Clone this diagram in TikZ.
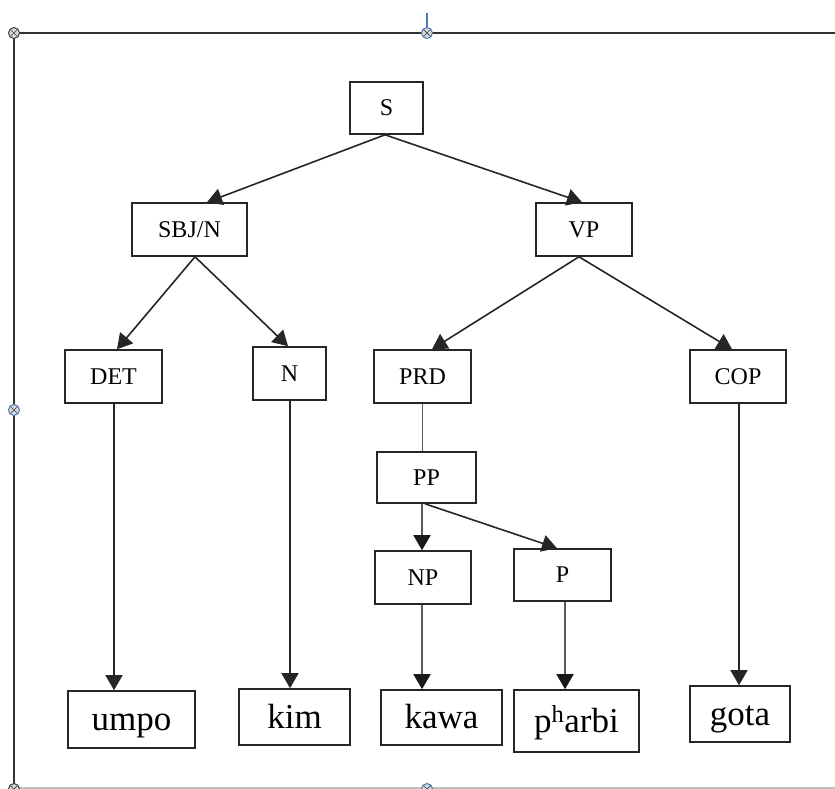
\documentclass[tikz,border=0pt]{standalone}
\usepackage{fontspec}
\setmainfont{Liberation Serif}
\usetikzlibrary{arrows.meta,calc}
\definecolor{linegray}{HTML}{5A5A5A}
\definecolor{handleblue}{HTML}{4A7AB8}
\tikzset{
  box/.style={draw=black!85, line width=1.6pt, rectangle, inner sep=0pt, font=\fontsize{24}{28}\selectfont},
  word/.style={box, font=\fontsize{35}{40}\selectfont, text height=26pt, text depth=4pt},
  arr/.style={draw=black!85, line width=1.6pt, -{Triangle[length=15pt,width=17pt]}},
  garr/.style={draw=linegray, line width=1.8pt, -{Triangle[length=15pt,width=17pt,color=black!90]}},
  gline/.style={draw=linegray, line width=1.8pt},
  handle/.style={circle, draw=black!75, fill=black!15, line width=1pt, minimum size=11pt, inner sep=0pt, path picture={
      \draw[black!75, line width=0.7pt] (path picture bounding box.north west) -- (path picture bounding box.south east)
        (path picture bounding box.north east) -- (path picture bounding box.south west);}},
  bhandle/.style={handle, draw=handleblue}
}
\begin{document}
\begin{tikzpicture}[x=1pt,y=-1pt]
\useasboundingbox (0,0) rectangle (835,789);
% frame
\draw[black!80, line width=1.8pt] (14,789) -- (14,33) -- (835,33);
\draw[black!25, line width=1.2pt] (14,788) -- (835,788);
\draw[handleblue, line width=1.3pt] (427,13) -- (427,28);
\node[handle] (h1) at (14,33) {};
\node[bhandle] (h2) at (427,33) {};
\node[bhandle] (h3) at (14,410) {};
\node[handle] (h4) at (14,789) {};
\node[bhandle] (h5) at (427,789) {};
% nodes
\node[box, minimum width=73pt, minimum height=52pt] (S) at (386.5,108) {S};
\node[box, minimum width=115pt, minimum height=53pt] (SBJ) at (189.5,229.5) {SBJ/N};
\node[box, minimum width=96pt, minimum height=53pt] (VP) at (584,229.5) {VP};
\node[box, minimum width=97pt, minimum height=53pt] (DET) at (113.5,376.5) {DET};
\node[box, minimum width=73pt, minimum height=53pt] (N) at (289.5,373.5) {N};
\node[box, minimum width=97pt, minimum height=53pt] (PRD) at (422.5,376.5) {PRD};
\node[box, minimum width=96pt, minimum height=53pt] (COP) at (738,376.5) {COP};
\node[box, minimum width=99pt, minimum height=51pt] (PP) at (426.5,477.5) {PP};
\node[box, minimum width=96pt, minimum height=53pt] (NP) at (423,577.5) {NP};
\node[box, minimum width=97pt, minimum height=52pt] (P) at (562.5,575) {P};
\node[word, minimum width=127pt, minimum height=57pt] (umpo) at (131.5,719.5) {umpo};
\node[word, minimum width=111pt, minimum height=56pt] (kim) at (294.5,717) {kim};
\node[word, minimum width=121pt, minimum height=55pt] (kawa) at (441.5,717.5) {kawa};
\node[word, minimum width=125pt, minimum height=62pt] (pharbi) at (576.5,721) {p\textsuperscript{h}arbi};
\node[word, minimum width=100pt, minimum height=56pt] (gota) at (740,714) {gota};
% connectors
\draw[arr] ([xshift=-1.5pt]S.south) -- ([xshift=17.5pt]SBJ.north);
\draw[arr] ([xshift=-1.5pt]S.south) -- ([xshift=-2pt]VP.north);
\draw[arr] ([xshift=5.5pt]SBJ.south) -- ([xshift=3.5pt]DET.north);
\draw[arr] ([xshift=5.5pt]SBJ.south) -- ([xshift=-1.5pt]N.north);
\draw[arr] ([xshift=-5pt]VP.south) -- ([xshift=9.5pt]PRD.north);
\draw[arr] ([xshift=-5pt]VP.south) -- ([xshift=-6pt]COP.north);
\draw[arr] ([xshift=0.5pt]DET.south) -- ([xshift=0.5pt]DET.south |- umpo.north);
\draw[arr] ([xshift=0.5pt]N.south) -- ([xshift=0.5pt]N.south |- kim.north);
\draw[gline] (PRD.south) -- (PRD.south |- PP.north);
\draw[garr] ([xshift=-1pt]NP.north |- PP.south) -- ([xshift=-1pt]NP.north);
\draw[arr] ([xshift=-1.5pt]PP.south) -- ([xshift=-5.5pt]P.north);
\draw[garr] ([xshift=-1pt]NP.south) -- ([xshift=-1pt]NP.south |- kawa.north);
\draw[garr] ([xshift=2.5pt]P.south) -- ([xshift=2.5pt]P.south |- pharbi.north);
\draw[arr] ([xshift=1pt]COP.south) -- ([xshift=1pt]COP.south |- gota.north);
\end{tikzpicture}
\end{document}
